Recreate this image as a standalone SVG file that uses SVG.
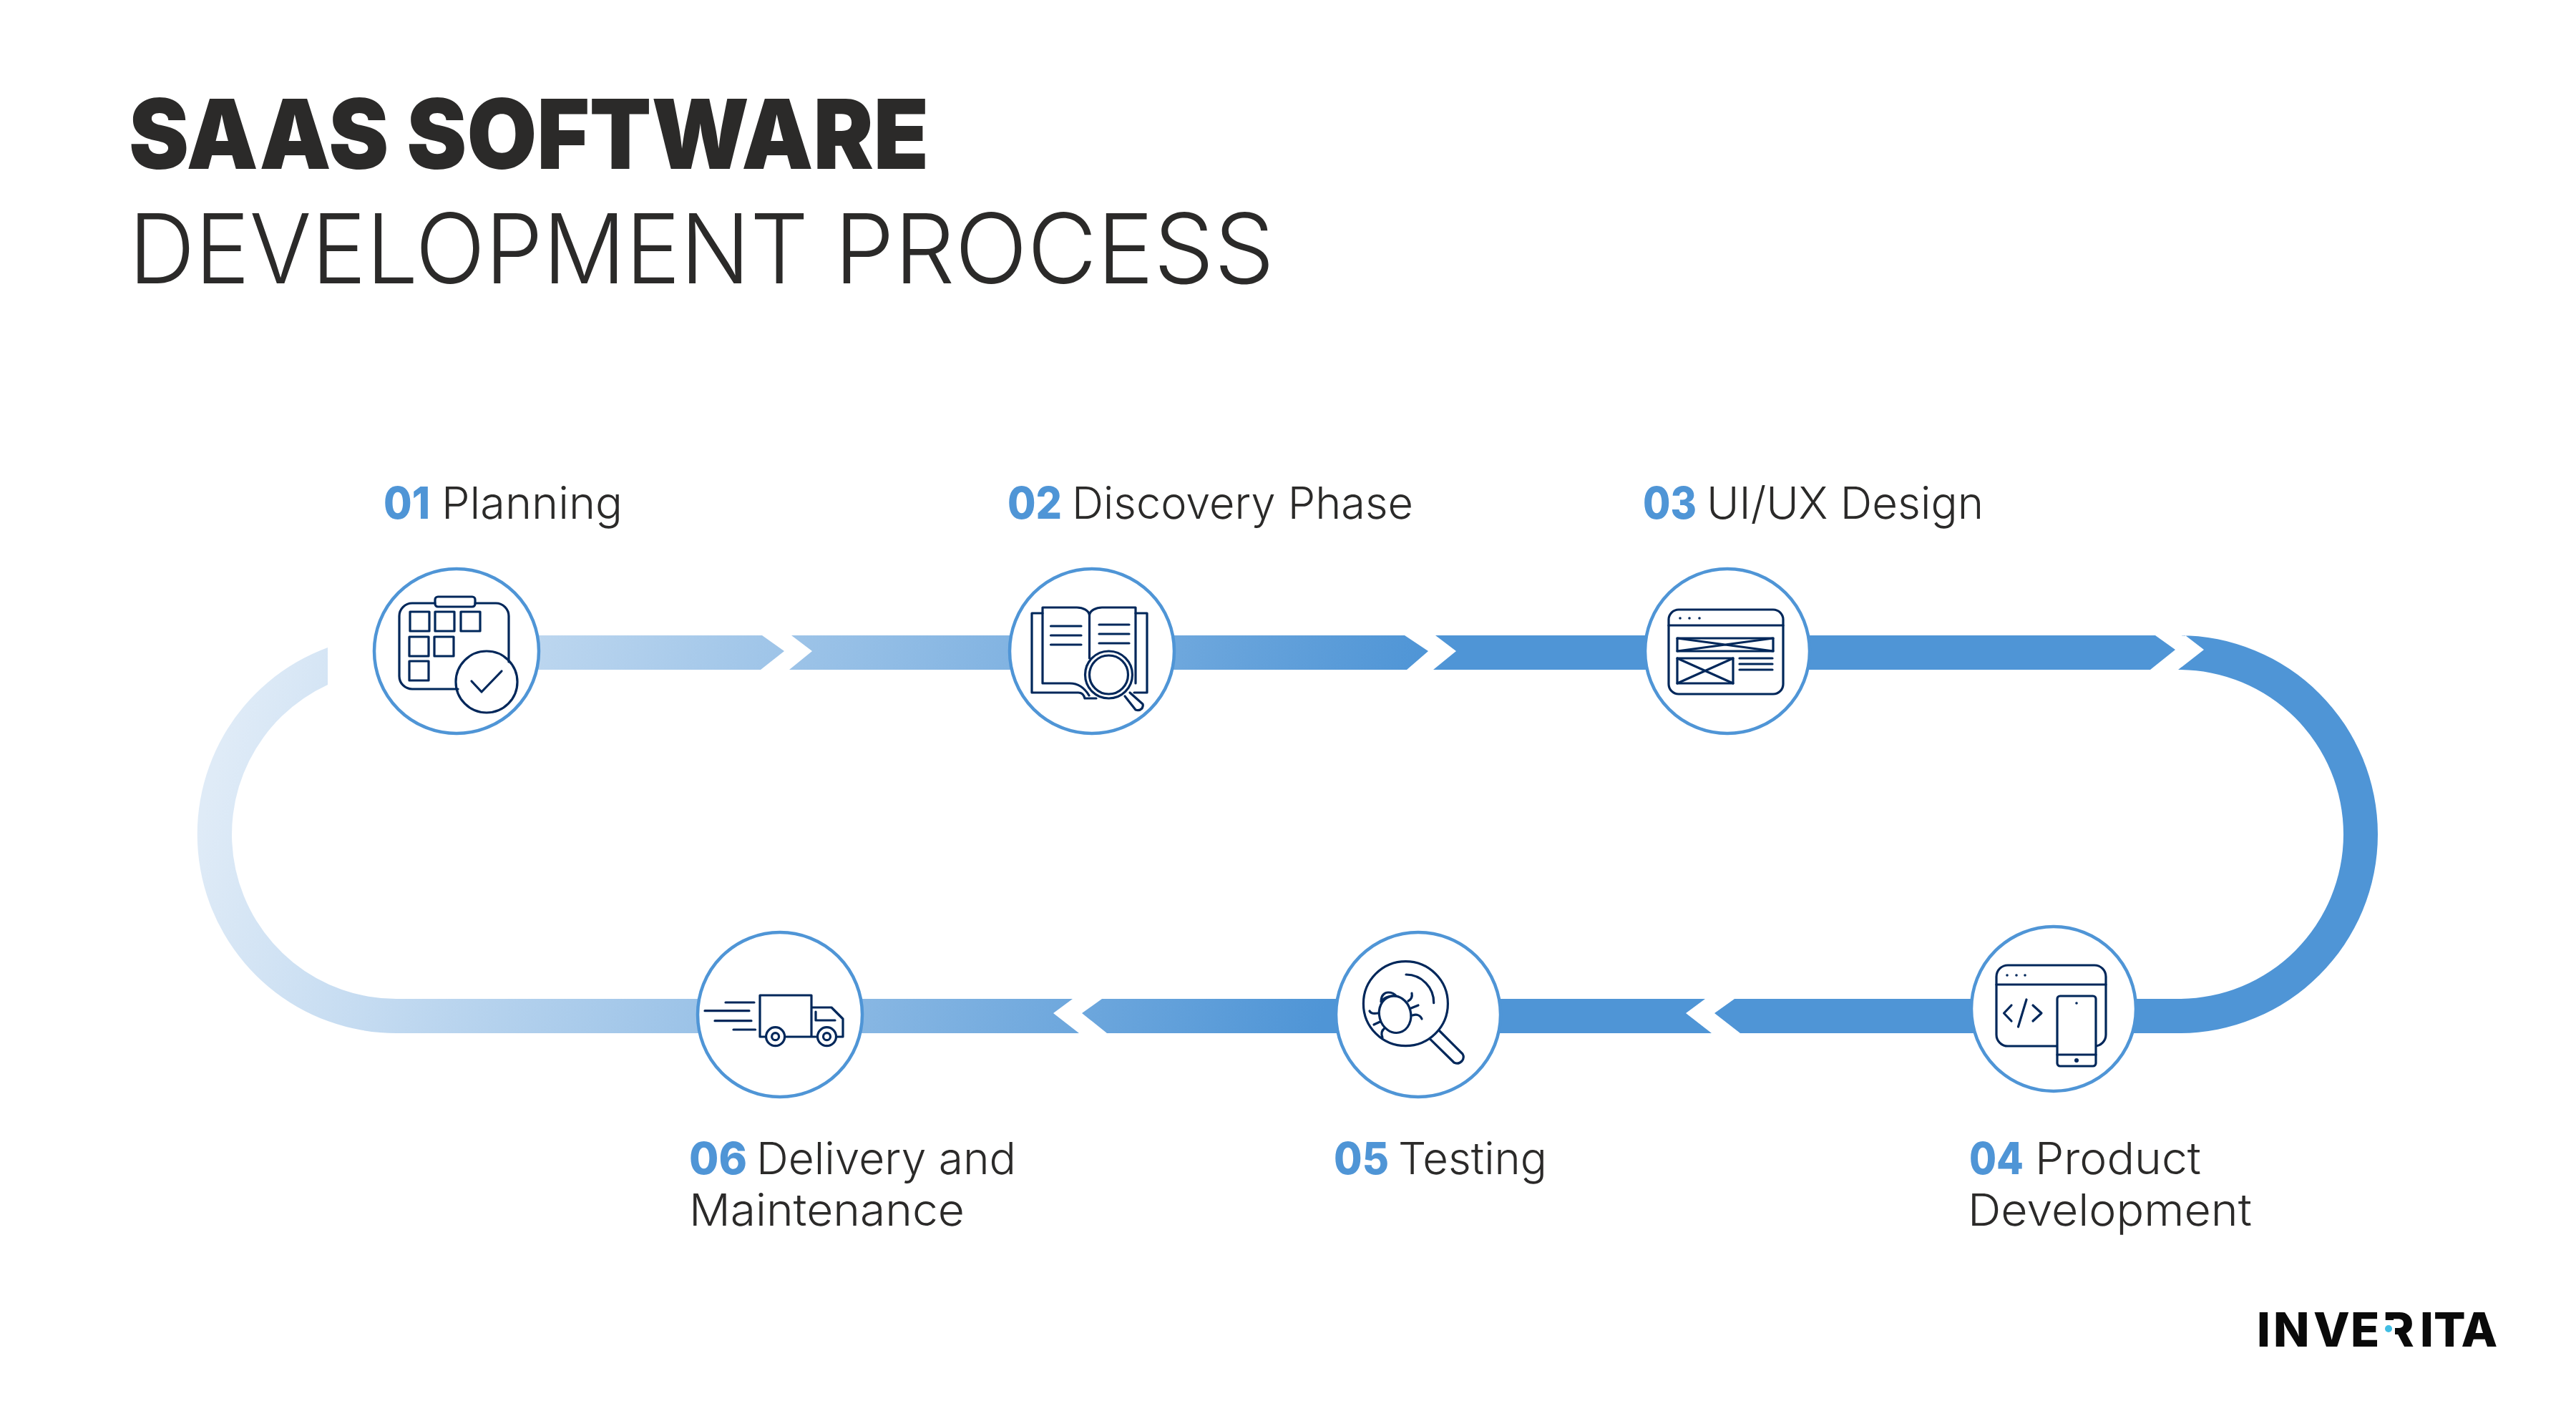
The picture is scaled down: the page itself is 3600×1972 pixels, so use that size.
<svg xmlns="http://www.w3.org/2000/svg" width="3600" height="1972" viewBox="0 0 3600 1972">
<style>
text{font-family:"Inter","Liberation Sans",sans-serif}
.t1{font-size:135px;font-weight:900;fill:#2B2A29}
.t2{font-size:135px;font-weight:300;fill:#2B2A29}
.n{font-size:62px;font-weight:800;fill:#4F95D6}
.l{font-size:62px;font-weight:300;fill:#2B2A29}
.c{fill:#fff;stroke:#4F95D6;stroke-width:4.5}
.i{fill:none;stroke:#00275A;stroke-width:3.2;stroke-linecap:round;stroke-linejoin:round}
.w{fill:#fff}
.d{fill:#00275A;stroke:none}
.s{fill:url(#g)}
</style>
<defs>
<linearGradient id="g" gradientUnits="userSpaceOnUse" x1="276" y1="1166" x2="1798" y2="1600">
<stop offset="0" stop-color="#DFEBF7"/>
<stop offset="1" stop-color="#4F95D6"/>
</linearGradient>
</defs>
<rect width="3600" height="1972" fill="#fff"/>
<g id="title">
<text class="t1" x="180" y="236" textLength="1118" lengthAdjust="spacingAndGlyphs">SAAS SOFTWARE</text>
<text class="t2" x="180" y="396" textLength="950" lengthAdjust="spacingAndGlyphs">DEVELOPMENT</text>
<text class="t2" x="1166" y="396" textLength="615" lengthAdjust="spacingAndGlyphs">PROCESS</text>
</g>
<g id="connectors">
<polygon class="s" points="638,888 1065,888 1096,910 1063,936 638,936"/>
<polygon class="s" points="1106,888 1963,888 1996,910 1966,936 1103,936 1135,910"/>
<polygon class="s" points="2006,888 3012,888 3040,908 3005,936 2003,936 2035,910"/>
<path class="s" d="M3054,888H3045A278,278 0 0 1 3045,1444H2432L2396,1416L2424,1396H3045A230,230 0 0 0 3045,936H3044L3080,908Z"/>
<polygon class="s" points="2383,1396 1540,1396 1512,1416 1547,1444 2392,1444 2356,1416"/>
<path class="s" d="M1499,1396L1472,1416L1508,1444H554A278,278 0 0 1 458,905V957A230,230 0 0 0 554,1396Z"/>
</g>
<g id="node-01">
<circle class="c" cx="638" cy="910" r="115"/>
<path class="i" d="M640,963H576A18,18 0 0 1 558,945V861A18,18 0 0 1 576,843H608M664,843H693A18,18 0 0 1 711,861V925"/>
<rect class="i" x="608" y="834" width="56" height="14" rx="4"/>
<rect class="i" x="573" y="855" width="27" height="27"/>
<rect class="i" x="608" y="855" width="27" height="27"/>
<rect class="i" x="644" y="855" width="27" height="27"/>
<rect class="i" x="572" y="890" width="27" height="27"/>
<rect class="i" x="607" y="890" width="27" height="27"/>
<rect class="i" x="572" y="924" width="27" height="27"/>
<circle class="i" cx="680" cy="953" r="43"/>
<path class="i" d="M659,952L673,967L701,938"/>
<text class="n" x="536" y="725" textLength="65" lengthAdjust="spacingAndGlyphs">01</text>
<text class="l" x="617" y="725" textLength="253" lengthAdjust="spacingAndGlyphs">Planning</text>
</g>
<g id="node-02">
<circle class="c" cx="1526" cy="910" r="115"/>
<path class="i" d="M1457,857H1442V968H1507Q1514,968 1516,976H1532M1587,857H1603V968H1585"/>
<path class="i" d="M1522.5,860C1522,853 1513,849 1505,849H1457V955H1495C1508,955 1516,962 1522,972M1522.5,860C1523,853 1532,849 1540,849H1587V955M1522.5,860V920"/>
<path class="i" d="M1468.5,875H1511M1468.5,888H1511M1468.5,901H1511M1536,873H1578M1536,886H1578M1536,899H1578"/>
<circle class="w" cx="1549.5" cy="943" r="33"/>
<circle class="i" cx="1549.5" cy="943" r="33"/>
<circle class="i" cx="1549.5" cy="943" r="27"/>
<path class="i" d="M1572,973L1587,992Q1592,994 1596,990Q1598,986 1597,984L1579,968"/>
<text class="n" x="1408" y="725" textLength="76" lengthAdjust="spacingAndGlyphs">02</text>
<text class="l" x="1498" y="725" textLength="477" lengthAdjust="spacingAndGlyphs">Discovery Phase</text>
</g>
<g id="node-03">
<circle class="c" cx="2414" cy="910" r="115"/>
<rect class="i" x="2332" y="852" width="160" height="118" rx="14"/>
<path class="i" d="M2332,874H2492"/>
<circle class="d" cx="2348" cy="864" r="1.8"/><circle class="d" cx="2361" cy="864" r="1.8"/><circle class="d" cx="2375" cy="864" r="1.8"/>
<rect class="i" x="2344" y="892" width="134" height="18"/>
<path class="i" d="M2344,892L2478,910M2478,892L2344,910"/>
<rect class="i" x="2344" y="920" width="78" height="35"/>
<path class="i" d="M2344,920L2422,955M2422,920L2344,955"/>
<path class="i" d="M2431,920H2477M2431,928H2477M2431,936H2477"/>
<text class="n" x="2296" y="725" textLength="75" lengthAdjust="spacingAndGlyphs">03</text>
<text class="l" x="2385" y="725" textLength="387" lengthAdjust="spacingAndGlyphs">UI/UX Design</text>
</g>
<g id="node-04">
<circle class="c" cx="2870" cy="1410" r="115"/>
<rect class="i" x="2790" y="1349" width="153" height="113" rx="16"/>
<path class="i" d="M2790,1376H2943"/>
<circle class="d" cx="2805" cy="1363" r="1.8"/><circle class="d" cx="2818" cy="1363" r="1.8"/><circle class="d" cx="2830" cy="1363" r="1.8"/>
<path class="i" d="M2811,1405L2800.5,1416L2811,1427M2832,1397L2820.5,1435M2841,1405L2853,1416L2841,1427"/>
<rect class="w" x="2875" y="1392" width="54" height="98" rx="4"/>
<rect class="i" x="2875" y="1392" width="54" height="98" rx="4"/>
<path class="i" d="M2875,1474H2929"/>
<circle class="d" cx="2902" cy="1402" r="1.8"/><circle class="d" cx="2902" cy="1482" r="3"/>
<text class="n" x="2752" y="1641" textLength="76" lengthAdjust="spacingAndGlyphs">04</text>
<text class="l" x="2844" y="1641" textLength="232" lengthAdjust="spacingAndGlyphs">Product</text>
<text class="l" x="2750" y="1713" textLength="397" lengthAdjust="spacingAndGlyphs">Development</text>
</g>
<g id="node-05">
<circle class="c" cx="1982" cy="1418" r="115"/>
<circle class="i" cx="1964.4" cy="1402.7" r="59"/>
<path class="i" d="M1965,1362A39,39 0 0 1 2003.7,1401.7"/>
<path class="i" d="M1999,1452.7L2032,1485Q2038,1488 2043,1483Q2047,1478 2044,1473L2011,1440"/>
<ellipse class="i" cx="1949.6" cy="1417.7" rx="22" ry="26" transform="rotate(-15 1949.6 1417.7)"/>
<path class="i" d="M1930,1400C1930,1390 1936,1387 1940,1387C1946,1387 1949,1389 1951,1392M1930,1400C1934,1394 1942,1391 1951,1392"/>
<path class="i" d="M1968,1399C1972,1397 1974,1393 1973,1388M1972,1409L1982,1405M1974,1419C1980,1417 1985,1419 1987,1424M1925.5,1416C1920,1417 1916,1417 1914,1413M1928.6,1428L1920,1432M1935,1437C1931,1440 1930,1445 1932,1450"/>
<text class="n" x="1864" y="1641" textLength="77" lengthAdjust="spacingAndGlyphs">05</text>
<text class="l" x="1954" y="1641" textLength="208" lengthAdjust="spacingAndGlyphs">Testing</text>
</g>
<g id="node-06">
<circle class="c" cx="1090" cy="1418" r="115"/>
<path class="i" d="M1070,1449H1062V1391H1134V1449M1134,1408H1162L1178,1424V1449H1169M1097,1449H1142M1140,1414V1426H1167"/>
<path class="i" d="M1014,1401H1054M985,1412.7H1047M999,1426.7H1050M1025,1439H1055.6"/>
<circle class="i" cx="1083.6" cy="1448.7" r="13"/><circle class="i" cx="1083.6" cy="1448.7" r="5"/>
<circle class="i" cx="1155.5" cy="1448.7" r="13"/><circle class="i" cx="1155.5" cy="1448.7" r="5"/>
<text class="n" x="963" y="1641" textLength="81" lengthAdjust="spacingAndGlyphs">06</text>
<text class="l" x="1057" y="1641" textLength="363" lengthAdjust="spacingAndGlyphs">Delivery and</text>
<text class="l" x="963" y="1713" textLength="385" lengthAdjust="spacingAndGlyphs">Maintenance</text>
</g>
<g id="logo">
<text x="3154 3177 3233 3285 3330 3382 3401 3439.5" y="1882" font-size="66" font-weight="800" fill="#0A0A0A">INVERITA</text>
<rect x="3328" y="1845" width="19" height="39" fill="#fff"/>
<circle cx="3338" cy="1857" r="5" fill="#41BDE3"/>
</g>
</svg>
